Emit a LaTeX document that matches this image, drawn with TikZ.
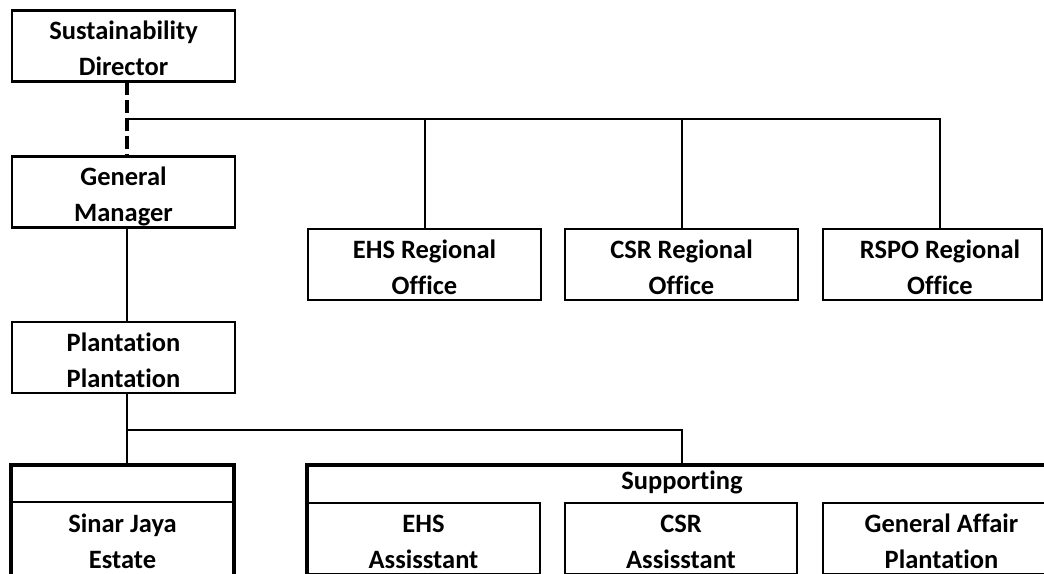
\documentclass[tikz,border=0pt]{standalone}
\usepackage{fontspec}
\setmainfont{Carlito}[Ligatures=NoCommon]
\newcommand{\ls}{\rule[-6pt]{0pt}{35pt}}
\tikzset{
  box/.style={draw, line width=2.5pt, inner sep=0pt, outer sep=0pt,
    minimum height=71pt, align=center,
    font=\bfseries\fontsize{26.5}{36}\selectfont},
  thickbox/.style={draw, line width=4pt, inner sep=0pt, outer sep=0pt},
  innerbox/.style={box, line width=2pt},
  lbl/.style={inner sep=0pt, align=center, font=\bfseries\fontsize{26.5}{36}\selectfont},
  conn/.style={line width=2pt},
  dconn/.style={line width=3.5pt, dash pattern=on 13pt off 5pt},
}
\begin{document}
\begin{tikzpicture}[x=1pt,y=-1pt]
\useasboundingbox (0,0) rectangle (1044,573);
\clip (0,0) rectangle (1044,573);
\fill[white] (0,0) rectangle (1044,573);

\coordinate (trunk) at (127,0);

% left column
\node[box, minimum width=223pt] (sd) at (123.5,46) {\ls Sustainability\\\ls Director};
\node[box, minimum width=223pt] (gm) at (123.5,192) {\ls General\\\ls Manager};
\node[box, minimum width=223pt] (pl) at (123.5,357.5) {\ls Plantation\\\ls Plantation};

% regional offices
\node[box, minimum width=233pt] (ehsr) at (424.5,264.5) {\ls EHS Regional\\\ls Office};
\node[box, minimum width=233pt] (csrr) at (681.5,264.5) {\ls CSR Regional\\\ls Office};
\node[box, minimum width=219pt] (rspo) at (932.5,264.5) {};
\node[lbl] (rspot) at (940,264.5) {\ls RSPO Regional\\\ls Office};

% bottom groups
\node[thickbox, minimum width=223pt, minimum height=140pt] (sinar) at (122.5,535) {};
\draw[line width=2pt] (sinar.west |- 0,502) -- (sinar.east |- 0,502);
\node[lbl] (sinart) at (122.5,538.5) {\ls Sinar Jaya\\\ls Estate};

\node[thickbox, minimum width=753pt, minimum height=140pt] (sup) at (683.5,535) {};
\node[lbl, anchor=base] (supt) at (682,489) {Supporting};
\node[innerbox, minimum width=233pt] (ehsa) at (423.5,538.5) {\ls EHS\\\ls Assisstant};
\node[innerbox, minimum width=232pt] (csra) at (681,538.5) {\ls CSR\\\ls Assisstant};
\node[innerbox, minimum width=237pt] (gaa) at (941.5,538.5) {\ls General Affair\\\ls Plantation};

% connectors
\coordinate (tbus) at (127,119);
\coordinate (bbus) at (127,430);
\draw[dconn] (sd.south -| trunk) -- (gm.north -| trunk);
\draw[conn] (tbus) -- (tbus -| rspot.north) -- (rspot.north);
\draw[conn] (tbus -| ehsr.north) -- (ehsr.north);
\draw[conn] (tbus -| csrr.north) -- (csrr.north);
\draw[conn] (gm.south -| trunk) -- (pl.north -| trunk);
\draw[conn] (pl.south -| trunk) -- (sinar.north -| trunk);
\draw[conn] (bbus) -- (bbus -| supt) -- (sup.north -| supt);
\end{tikzpicture}
\end{document}
